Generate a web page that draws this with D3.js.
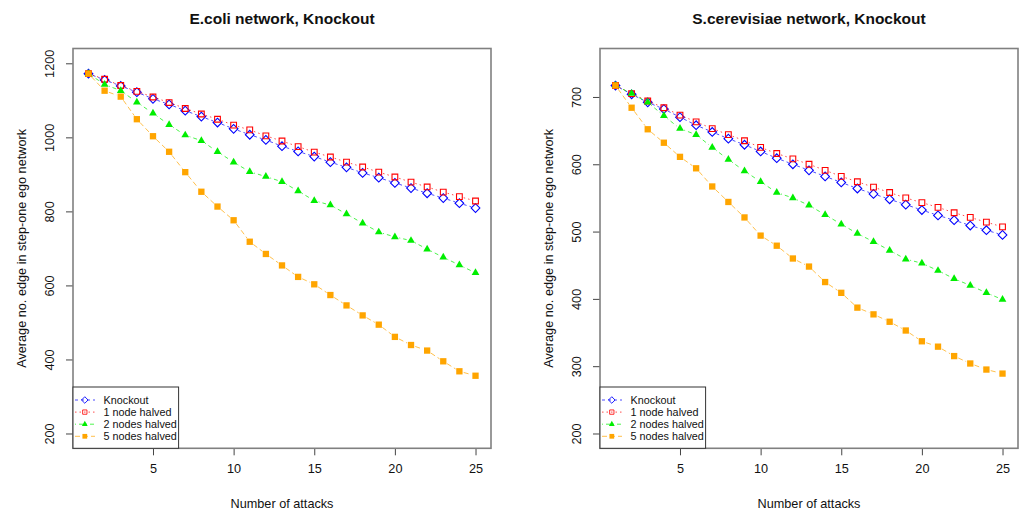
<!DOCTYPE html>
<html lang="en">
<head>
<meta charset="UTF-8">
<script src="https://d3js.org/d3.v7.min.js"></script>
<style>
    body { margin: 0; background: #fff; }
    svg text { font-family: "Liberation Sans", Arial, sans-serif; fill: #111; }
</style>
<title>Knockout attacks</title>
</head>
<body>
<svg id="chart" width="1020" height="514"></svg>
<script>
    // number of attacks (x)
    var attacks = [1, 2, 3, 4, 5, 6, 7, 8, 9, 10, 11, 12, 13, 14, 15, 16, 17, 18, 19, 20, 21, 22, 23, 24, 25]
    var xTicks = [5, 10, 15, 20, 25]

    var seriesNames = ["Knockout", "1 node halved", "2 nodes halved", "5 nodes halved"]

    // E.coli
    var ecoliKnockout = [1172, 1155, 1139, 1122, 1104, 1089, 1072, 1056, 1040, 1023, 1007, 993, 976, 962, 948, 933, 919, 904, 891, 877, 863, 849, 836, 822, 809]
    var ecoliHalf1 = [1172, 1157, 1140, 1124, 1109, 1094, 1078, 1063, 1049, 1033, 1020, 1004, 990, 975, 960, 947, 933, 920, 906, 893, 879, 866, 852, 840, 828]
    var ecoliHalf2 = [1172, 1143, 1126, 1095, 1065, 1034, 1006, 991, 961, 933, 907, 894, 880, 855, 829, 817, 793, 768, 744, 731, 721, 698, 676, 655, 634]
    var ecoliHalf5 = [1172, 1126, 1110, 1049, 1003, 961, 906, 853, 813, 776, 718, 685, 654, 623, 603, 574, 546, 519, 494, 461, 439, 424, 395, 368, 356]
    var ecoliTicks = [200, 400, 600, 800, 1000, 1200]

    // S.cerevisiae
    var scerKnockout = [717, 704, 692, 682, 670, 658, 648, 638, 629, 619, 609, 600, 591, 582, 573, 564, 556, 548, 540, 532, 524, 517, 509, 502, 495]
    var scerHalf1 = [717, 705, 694, 684, 673, 663, 653, 644, 635, 625, 616, 608, 600, 591, 582, 574, 566, 558, 550, 543, 536, 528, 521, 514, 507]
    var scerHalf2 = [717, 705, 692, 672, 653, 644, 625, 607, 590, 574, 558, 550, 539, 525, 511, 497, 485, 472, 459, 453, 442, 430, 420, 409, 399]
    var scerHalf5 = [717, 684, 652, 632, 611, 594, 567, 544, 521, 494, 479, 460, 448, 425, 409, 387, 377, 366, 353, 337, 329, 315, 304, 295, 289]
    var scerTicks = [200, 300, 400, 500, 600, 700]

    // styles per series: colour, dash, marker
    var styles = [
        {color: "#0000ff", dash: "3,3", shape: "diamond"},
        {color: "#ff0000", dash: "1.5,3", shape: "square"},
        {color: "#00ee00", dash: "1,3,4,3", shape: "triangle"},
        {color: "#ffa500", dash: "5,3", shape: "fsquare"}
    ]

    var svg = d3.select("#chart")

    function marker(sel, shape, color) {
        if (shape == "diamond") {
            sel.attr("d", d3.symbol(d3.symbolSquare, 38)())
                .attr("fill", "none").attr("stroke", color).attr("stroke-width", 1.1)
        } else if (shape == "square") {
            sel.attr("d", d3.symbol(d3.symbolSquare, 33)())
                .attr("fill", "none").attr("stroke", color).attr("stroke-width", 1.1)
        } else if (shape == "triangle") {
            sel.attr("d", d3.symbol(d3.symbolTriangle, 26)())
                .attr("fill", color).attr("stroke", "none")
        } else {
            sel.attr("d", d3.symbol(d3.symbolSquare, 40)())
                .attr("fill", color).attr("stroke", "none")
        }
    }

    function drawPanel(p) {
        var x = d3.scaleLinear().domain([0.04, 25.96]).range([p.left, p.left + 418])
        var y = d3.scaleLinear().domain(p.ylim).range([448.3, 48.5])
        var g = svg.append("g")

        // title
        g.append("text")
            .attr("x", p.left + 209).attr("y", 23.5)
            .attr("text-anchor", "middle")
            .style("font-size", "15.5px").style("font-weight", "bold")
            .text(p.title)

        // x axis
        var xa = g.append("g")
            .attr("transform", "translate(0,448.3)")
            .call(d3.axisBottom(x).tickValues(xTicks).tickSize(7).tickPadding(9).tickFormat(d3.format("d")))
        xa.select(".domain").remove()
        xa.selectAll("line").attr("stroke", "#444")
        xa.selectAll("text").style("font-size", "12.7px").attr("fill", "#111")

        // y axis, labels rotated like R
        var ya = g.append("g")
            .attr("transform", "translate(" + p.left + ",0)")
            .call(d3.axisLeft(y).tickValues(p.yTicks).tickSize(7).tickFormat(d3.format("d")))
        ya.select(".domain").remove()
        ya.selectAll("line").attr("stroke", "#444")
        ya.selectAll("text")
            .attr("x", 0).attr("dy", 0)
            .attr("transform", "translate(-19,0) rotate(-90)")
            .attr("text-anchor", "middle")
            .style("font-size", "12.7px").attr("fill", "#111")

        // axis titles
        g.append("text")
            .attr("x", p.left + 209).attr("y", 507.5)
            .attr("text-anchor", "middle")
            .style("font-size", "12.7px")
            .text("Number of attacks")
        g.append("text")
            .attr("transform", "translate(" + (p.left - 47) + ",248.4) rotate(-90)")
            .attr("text-anchor", "middle")
            .style("font-size", "12.7px")
            .text("Average no. edge in step-one ego network")

        // series
        p.series.forEach(function (vals, si) {
            var st = styles[si]
            var pts = attacks.map(function (a, i) { return [x(a), y(vals[i])] })
            var segs = []
            var gap = 4.5
            for (var i = 0; i < pts.length - 1; i++) {
                var dx = pts[i + 1][0] - pts[i][0], dy = pts[i + 1][1] - pts[i][1]
                var len = Math.sqrt(dx * dx + dy * dy)
                if (len <= 2 * gap) continue
                var ux = dx / len, uy = dy / len
                segs.push([pts[i][0] + ux * gap, pts[i][1] + uy * gap, pts[i + 1][0] - ux * gap, pts[i + 1][1] - uy * gap])
            }
            g.append("g").selectAll("line")
                .data(segs)
                .enter()
                .append("line")
                .attr("x1", function (d) { return d[0] })
                .attr("y1", function (d) { return d[1] })
                .attr("x2", function (d) { return d[2] })
                .attr("y2", function (d) { return d[3] })
                .attr("stroke", st.color)
                .attr("stroke-opacity", 0.7)
                .attr("stroke-width", 1)
                .attr("stroke-dasharray", st.dash)

            var m = g.append("g").selectAll("path")
                .data(pts)
                .enter()
                .append("path")
            marker(m, st.shape, st.color)
            m.attr("transform", function (d) {
                return "translate(" + d[0] + "," + d[1] + ")" + (st.shape == "diamond" ? " rotate(45)" : "")
            })
        })

        // plot box
        g.append("rect")
            .attr("x", p.left).attr("y", 48.5)
            .attr("width", 418).attr("height", 399.8)
            .attr("fill", "none").attr("stroke", "#808080").attr("stroke-width", 1.6)

        // legend
        var lg = g.append("g").attr("transform", "translate(" + p.left + ",387)")
        lg.append("rect")
            .attr("x", 0).attr("y", 0)
            .attr("width", 105.6).attr("height", 61.3)
            .attr("fill", "white").attr("stroke", "#333").attr("stroke-width", 1)
        seriesNames.forEach(function (name, si) {
            var st = styles[si]
            var cy = 13 + si * 12.1
            lg.append("line")
                .attr("x1", 2).attr("x2", 22).attr("y1", cy).attr("y2", cy)
                .attr("stroke", st.color).attr("stroke-opacity", 0.7)
                .attr("stroke-dasharray", st.dash)
            var mk = lg.append("path")
            marker(mk, st.shape, st.color)
            mk.attr("transform", "translate(11.8," + cy + ")" + (st.shape == "diamond" ? " rotate(45)" : "") + " scale(0.75)")
            lg.append("text")
                .attr("x", 30.6).attr("y", cy + 3.8)
                .style("font-size", "10.8px")
                .text(name)
        })
    }

    drawPanel({
        left: 73, title: "E.coli network, Knockout",
        ylim: [160, 1240], yTicks: ecoliTicks,
        series: [ecoliKnockout, ecoliHalf1, ecoliHalf2, ecoliHalf5]
    })
    drawPanel({
        left: 600, title: "S.cerevisiae network, Knockout",
        ylim: [178, 772], yTicks: scerTicks,
        series: [scerKnockout, scerHalf1, scerHalf2, scerHalf5]
    })
</script>
</body>
</html>
